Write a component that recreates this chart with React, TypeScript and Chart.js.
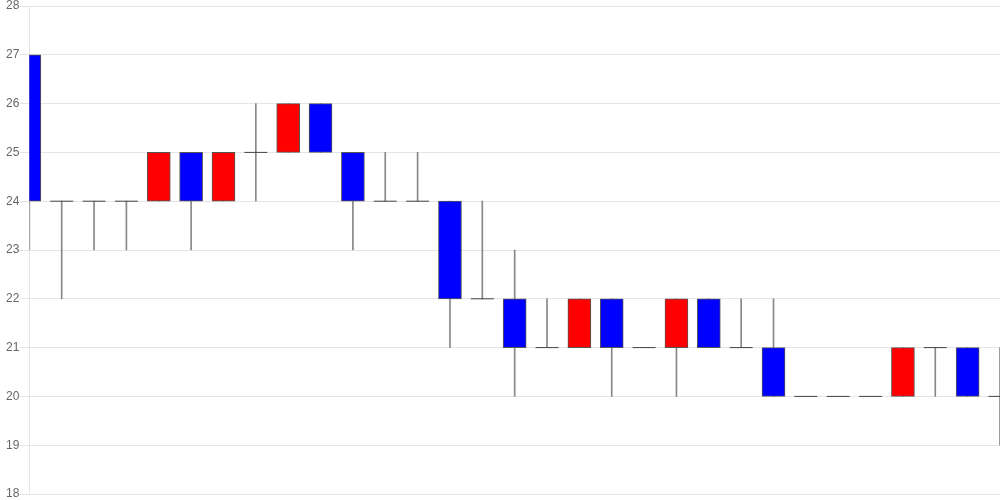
import React, { useEffect, useRef } from "react";
import { Chart, registerables } from "chart.js";

Chart.register(...registerables);

const labels: string[] = Array.from({ length: 31 }, (_, i) => String(i + 1));
const openVals: number[] = [27, 24, 24, 24, 24, 25, 24, 25, 25, 26, 25, 24, 24, 24, 22, 22, 21, 21, 22, 21, 21, 22, 21, 21, 20, 20, 20, 20, 21, 21, 20];
const closeVals: number[] = [24, 24, 24, 24, 25, 24, 25, 25, 26, 25, 24, 24, 24, 22, 22, 21, 21, 22, 21, 21, 22, 21, 21, 20, 20, 20, 20, 21, 21, 20, 20];
const highVals: number[] = [27, 24, 24, 24, 25, 25, 25, 26, 26, 26, 25, 25, 25, 24, 24, 23, 22, 22, 22, 21, 22, 22, 22, 22, 20, 20, 20, 21, 21, 21, 21];
const lowVals: number[] = [23, 22, 23, 23, 24, 23, 24, 24, 25, 25, 23, 24, 24, 21, 22, 20, 21, 21, 20, 21, 20, 21, 21, 20, 20, 20, 20, 20, 20, 20, 19];

const UP_COLOR = "#ff0000";
const DOWN_COLOR = "#0000ff";

export default function App() {
  const ref = useRef<HTMLCanvasElement | null>(null);

  useEffect(() => {
    if (!ref.current) return;
    const bodyData = openVals.map((o, i) => (o === closeVals[i] ? null : [Math.min(o, closeVals[i]), Math.max(o, closeVals[i])]));
    const bodyColors = openVals.map((o, i) => (closeVals[i] > o ? UP_COLOR : DOWN_COLOR));
    const wickData = lowVals.map((l, i) => [l, highVals[i]]);
    const dojiData = openVals.map((o, i) => (o === closeVals[i] ? o : null));

    const chart = new Chart(ref.current, {
      type: "bar",
      data: {
        labels,
        datasets: [
          {
            type: "bar",
            label: "body",
            data: bodyData as any,
            backgroundColor: bodyColors,
            borderColor: "#555",
            borderWidth: 1,
            borderSkipped: false,
            barThickness: 23,
            grouped: false,
            order: 0,
            clip: 0,
          } as any,
          {
            type: "bar",
            label: "wick",
            data: wickData as any,
            backgroundColor: "#888",
            borderWidth: 0,
            barThickness: 1,
            grouped: false,
            order: 2,
            clip: 0,
          } as any,
          {
            type: "line",
            label: "doji",
            data: dojiData as any,
            showLine: false,
            pointStyle: "line",
            pointRadius: 11.5,
            pointHoverRadius: 11.5,
            borderColor: "#444",
            borderWidth: 1,
            order: 1,
            clip: 0,
          } as any,
        ],
      },
      options: {
        animation: false,
        responsive: true,
        maintainAspectRatio: false,
        layout: { autoPadding: false, padding: { left: 6, right: 0, top: 0, bottom: 0 } },
        plugins: {
          legend: { display: false },
          tooltip: { enabled: false },
        },
        scales: {
          x: {
            display: false,
            offset: false,
          },
          y: {
            min: 18,
            max: 28,
            ticks: {
              stepSize: 1,
              color: "#666",
              padding: 0,
              font: { family: "'Liberation Sans', Arial, sans-serif", size: 12, lineHeight: 1 },
            },
            grid: {
              color: "rgba(0,0,0,0.1)",
              tickLength: 10,
            },
            border: { color: "rgba(0,0,0,0.1)" },
          },
        },
      },
    });
    return () => chart.destroy();
  }, []);

  return (
    <div style={{ position: "fixed", left: 0, top: 0, width: 1000, height: 500, background: "#fff" }}>
      <canvas ref={ref} />
    </div>
  );
}
